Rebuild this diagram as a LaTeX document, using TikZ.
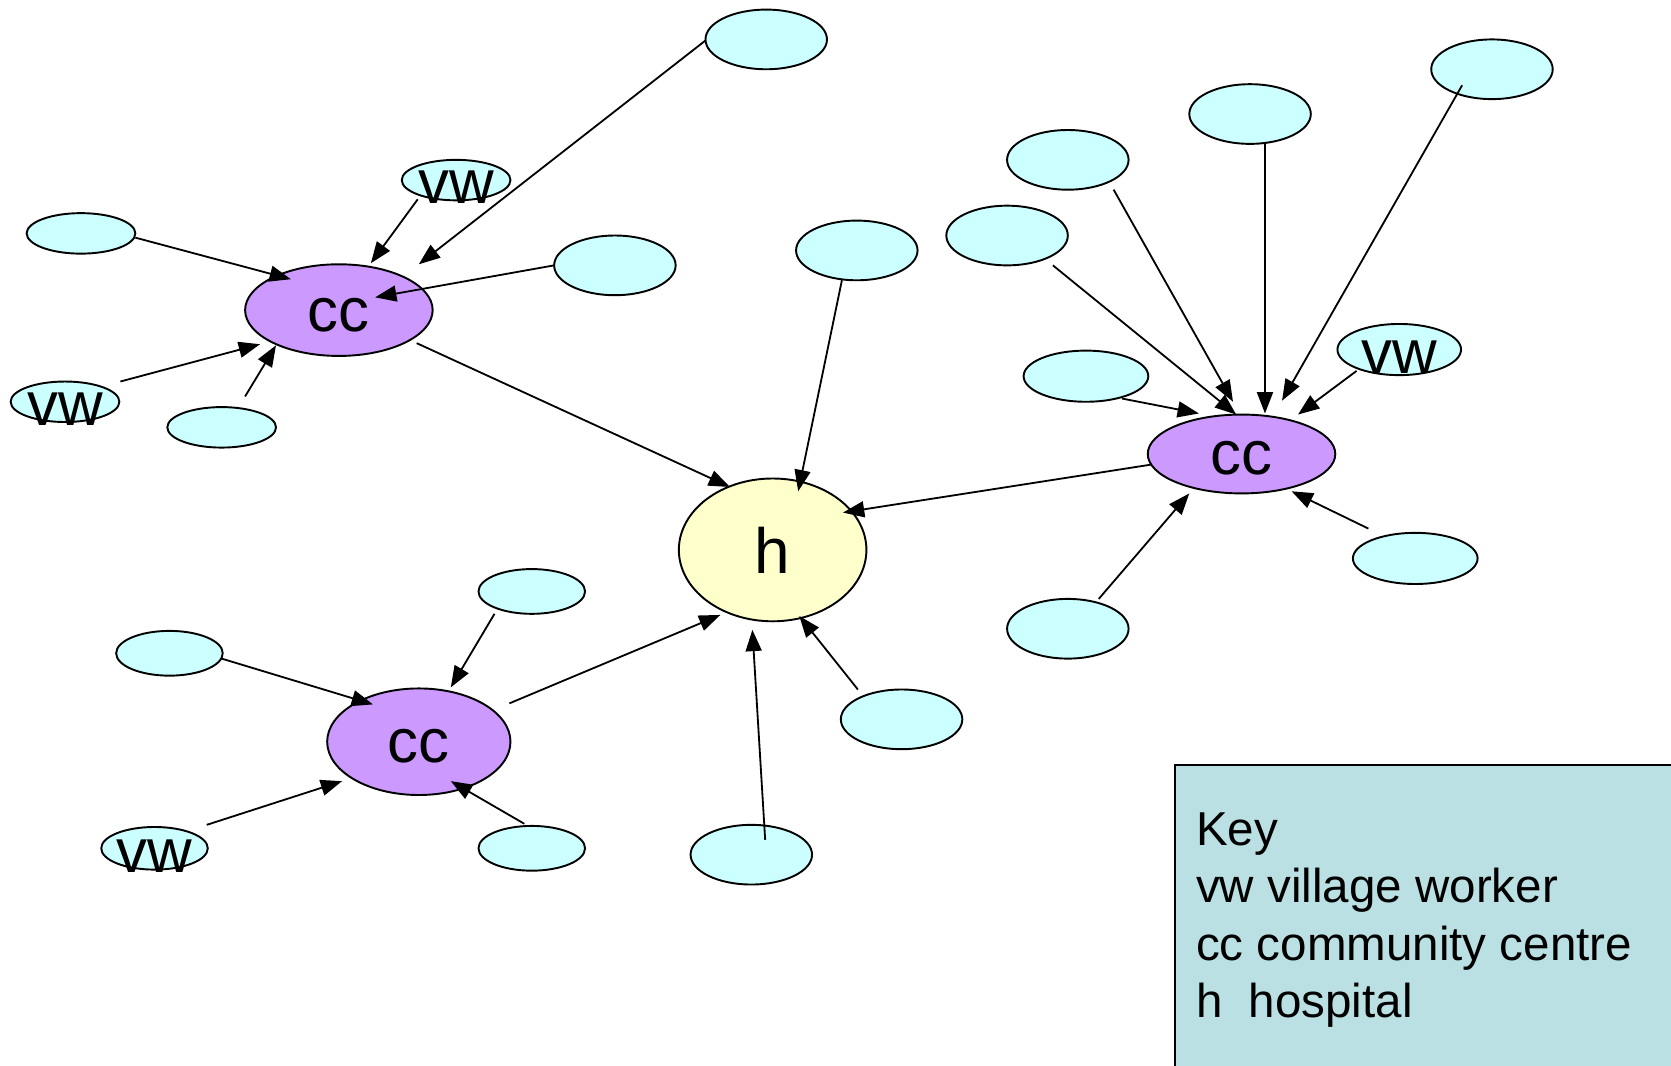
\documentclass[tikz,border=0pt]{standalone}
\usepackage{fontspec}
\setmainfont{Liberation Sans}
\usetikzlibrary{shapes.geometric,arrows.meta}
\definecolor{cyanfill}{HTML}{CCFFFF}
\definecolor{ccfill}{HTML}{CC99FF}
\definecolor{hfill}{HTML}{FFFFCC}
\definecolor{keyfill}{HTML}{BBE0E3}
\tikzset{
  oval/.style={ellipse, draw=black, line width=0.9pt, fill=cyanfill, inner sep=0pt},
  small/.style={oval, minimum width=51pt, minimum height=19pt},
  medium/.style={oval, minimum width=57pt, minimum height=28pt},
  wide/.style={oval, minimum width=58.5pt, minimum height=24pt},
  vwnode/.style={small, label={[font=\fontsize{29}{34}\selectfont, yshift=-3.5pt]center:vw}},
  ccnode/.style={ellipse, draw=black, line width=0.9pt, fill=ccfill, inner sep=0pt, text height=20pt, font=\fontsize{29}{34}\selectfont},
  hnode/.style={ellipse, draw=black, line width=0.9pt, fill=hfill, inner sep=0pt, minimum width=88pt, minimum height=67pt, font=\fontsize{30}{36}\selectfont},
  arr/.style={-{Triangle[length=10pt,width=7.5pt]}, line width=0.85pt},
  keybox/.style={draw=black, line width=0.9pt, fill=keyfill, inner sep=0pt, anchor=north west}
}
\begin{document}
\begin{tikzpicture}[x=0.5pt,y=-0.5pt]
\useasboundingbox (0,0) rectangle (1568,1000);
\clip (0,0) rectangle (1568,1000);
\fill[white] (0,0) rectangle (1568,1000);

% key box
\node[keybox, minimum width=240pt, minimum height=150pt] (key) at (1102,717) {};
\node[anchor=north west, align=left, inner sep=0pt, font=\fontsize{22.3}{27}\selectfont] (keytext) at (1122,762)
  {Key\\vw village worker\\cc community centre\\h\ \ hospital};

% nodes
\node[medium] (T1) at (719,37) {};
\node[vwnode] (vwA) at (428,169) {};
\node[small] (L1) at (76,219) {};
\node[ccnode, minimum width=88pt, minimum height=43pt] (ccA) at (318,291) {cc};
\node[medium] (R1) at (577,249) {};
\node[vwnode] (vwB) at (61,377) {};
\node[small] (B1) at (208,401) {};
\node[medium] (M1) at (804,235) {};
\node[hnode] (h) at (725,516) {h};
\node[medium] (E1) at (1002,150) {};
\node[medium] (E2) at (1173,107) {};
\node[medium] (E3) at (1400,65) {};
\node[medium] (E4) at (945,221) {};
\node[wide] (E5) at (1019,353) {};
\node[vwnode, minimum width=58pt, minimum height=24pt] (vwC) at (1313,328) {};
\node[ccnode, minimum width=88pt, minimum height=37pt] (ccB) at (1165,426) {cc};
\node[wide] (E6) at (1328,524) {};
\node[medium] (E7) at (1002,590) {};
\node[small, minimum width=50pt, minimum height=21pt] (S1) at (499,555) {};
\node[small, minimum width=50pt, minimum height=21pt] (S2) at (159,613) {};
\node[ccnode, minimum width=86pt, minimum height=50pt] (ccC) at (393,696) {cc};
\node[vwnode, minimum width=50pt, minimum height=20pt] (vwD) at (145,796) {};
\node[small, minimum width=50pt, minimum height=21pt] (S3) at (499,796) {};
\node[medium] (S4) at (846,675) {};
\node[medium] (S5) at (705,802) {};

% connectors
\draw[arr] ([shift={(-57,1)}]T1.center) -- ([shift={(75,-43)}]ccA.center);
\draw[arr] ([shift={(-36,18)}]vwA.center) -- ([shift={(30,-44)}]ccA.center);
\draw[arr] ([shift={(51,4)}]L1.center) -- ([shift={(-45,-29)}]ccA.center);
\draw[arr] ([shift={(-57,0)}]R1.center) -- ([shift={(34,-12)}]ccA.center);
\draw[arr] ([shift={(52,-19)}]vwB.center) -- ([shift={(-74,32)}]ccA.center);
\draw[arr] ([shift={(22,-29)}]B1.center) -- ([shift={(-59,33)}]ccA.center);
\draw[arr] ([shift={(73,31)}]ccA.center) -- ([shift={(-40,-59)}]h.center);
\draw[arr] ([shift={(-14,28)}]M1.center) -- ([shift={(24,-55)}]h.center);
\draw[arr] ([shift={(-85,10)}]ccB.center) -- ([shift={(66,-35)}]h.center);
\draw[arr] ([shift={(85,-36)}]ccC.center) -- ([shift={(-49,61)}]h.center);
\draw[arr] ([shift={(13,-14)}]S5.center) -- ([shift={(-19,75)}]h.center);
\draw[arr] ([shift={(-41,-28)}]S4.center) -- ([shift={(25,62)}]h.center);
\draw[arr] ([shift={(43,28)}]E4.center) -- ([shift={(-5,-37)}]ccB.center);
\draw[arr] ([shift={(43,28)}]E1.center) -- ([shift={(-8,-49)}]ccB.center);
\draw[arr] ([shift={(14,28)}]E2.center) -- ([shift={(22,-38)}]ccB.center);
\draw[arr] ([shift={(-28,15)}]E3.center) -- ([shift={(38,-50)}]ccB.center);
\draw[arr] ([shift={(-40,20)}]vwC.center) -- ([shift={(53,-37)}]ccB.center);
\draw[arr] ([shift={(34,21)}]E5.center) -- ([shift={(-40,-38)}]ccB.center);
\draw[arr] ([shift={(-44,-28)}]E6.center) -- ([shift={(47,35)}]ccB.center);
\draw[arr] ([shift={(29,-28)}]E7.center) -- ([shift={(-49,37)}]ccB.center);
\draw[arr] ([shift={(-35,21)}]S1.center) -- ([shift={(30,-51)}]ccC.center);
\draw[arr] ([shift={(49,5)}]S2.center) -- ([shift={(-43,-35)}]ccC.center);
\draw[arr] ([shift={(49,-22)}]vwD.center) -- ([shift={(-72,37)}]ccC.center);
\draw[arr] ([shift={(-7,-23)}]S3.center) -- ([shift={(30,37)}]ccC.center);
\end{tikzpicture}
\end{document}
